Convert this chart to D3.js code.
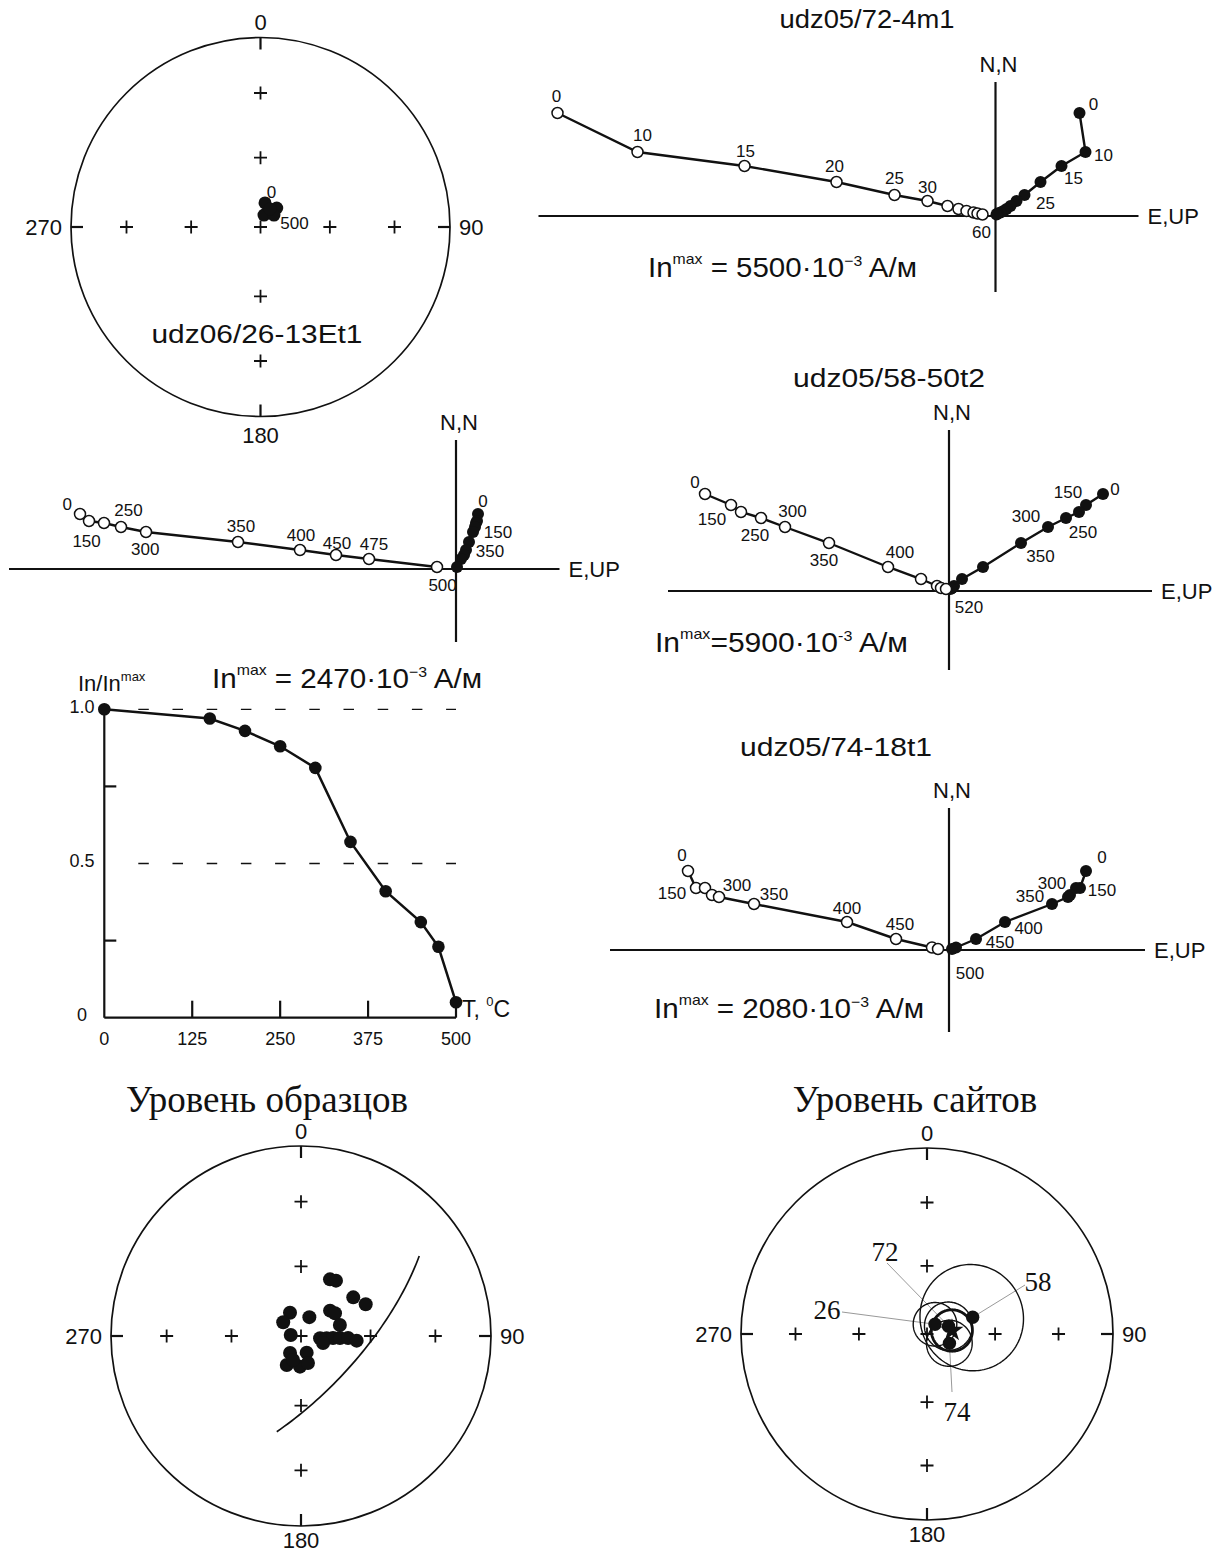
<!DOCTYPE html>
<html>
<head>
<meta charset="utf-8">
<script src="https://cdn.jsdelivr.net/npm/d3@7"></script>
<style>
  body { margin: 0; background: #fff; }
  svg { display: block; }
  text { font-family: "Liberation Sans", Arial, sans-serif; fill: #111; }
  .serif { font-family: "Liberation Serif", "Times New Roman", serif; }
</style>
</head>
<body>
<svg width="1227" height="1553"></svg>
<script>
// ---------- data ----------
const netDirs = [0, 90, 180, 270];
const netLabels = ["0", "90", "180", "270"];
const crossInc = [60, 30];

// udz06/26-13Et1, stereonet of demag steps
const s26Dec = [10.6, 40.5, 16.3, 48.4, 27.8];
const s26Inc = [79.5, 79.3, 84.7, 82.3, 81.3];

// Zijderveld diagrams: N, E (filled) and Up (open), relative units
const z72Steps = [0, 10, 15, 20, 25, 30, 35, 40, 45, 50, 55, 60];
const z72N  = [1.03, 0.64, 0.50, 0.34, 0.21, 0.15, 0.10, 0.07, 0.05, 0.035, 0.025, 0.015];
const z72E  = [0.84, 0.90, 0.66, 0.45, 0.29, 0.21, 0.15, 0.11, 0.08, 0.05, 0.02, 0.01];
const z72Up = [-4.38, -3.58, -2.51, -1.59, -1.01, -0.68, -0.48, -0.37, -0.29, -0.22, -0.18, -0.13];

const z26Steps = [0, 150, 200, 250, 300, 350, 400, 450, 475, 500];
const z26N  = [0.55, 0.48, 0.46, 0.42, 0.37, 0.27, 0.19, 0.14, 0.10, 0.02];
const z26E  = [0.22, 0.21, 0.20, 0.19, 0.17, 0.13, 0.10, 0.08, 0.05, 0.01];
const z26Up = [-3.76, -3.67, -3.52, -3.35, -3.10, -2.18, -1.56, -1.20, -0.87, -0.19];

const z58Steps = [0, 150, 200, 250, 300, 350, 400, 450, 480, 500, 520];
const z58N  = [0.97, 0.86, 0.79, 0.73, 0.64, 0.48, 0.24, 0.12, 0.05, 0.03, 0.02];
const z58E  = [1.54, 1.37, 1.30, 1.17, 0.99, 0.72, 0.34, 0.13, 0.05, 0.03, 0.015];
const z58Up = [-2.44, -2.18, -2.08, -1.88, -1.64, -1.20, -0.61, -0.28, -0.12, -0.08, -0.03];

const z74Steps = [0, 150, 200, 250, 300, 350, 400, 450, 475, 500];
const z74N  = [0.79, 0.62, 0.62, 0.55, 0.53, 0.46, 0.28, 0.11, 0.025, 0.01];
const z74E  = [1.37, 1.31, 1.27, 1.21, 1.19, 1.03, 0.56, 0.27, 0.07, 0.03];
const z74Up = [-2.61, -2.53, -2.44, -2.37, -2.30, -1.95, -1.02, -0.53, -0.17, -0.11];

// thermal demagnetisation curve
const demagT = [0, 150, 200, 250, 300, 350, 400, 450, 475, 500];
const demagJ = [1.0, 0.97, 0.93, 0.88, 0.81, 0.57, 0.41, 0.31, 0.23, 0.05];
const demagTicksX = [0, 125, 250, 375, 500];
const demagLabelsY = [0, 0.5, 1.0];

// sample level directions
const sampDec = [27.1, 32.3, 53.5, 63.9, 334.7, 23.9, 48.9, 56.3, 74.2, 307.7, 275.5, 96.9,
                 95.1, 93.6, 92.9, 92.4, 94.8, 107.7, 212.9, 161.2, 206.2, 181.9, 165.5, 198.4];
const sampInc = [62.6, 61.8, 62.0, 58.9, 79.0, 81.2, 73.5, 72.5, 72.7, 80.4, 85.6, 81.8,
                 79.0, 76.3, 73.3, 69.8, 66.0, 80.1, 81.4, 82.5, 76.2, 76.9, 78.1, 79.2];
const gcStart = [194.2, 46.9];
const gcEnd = [55.9, 25.8];

// site level
const siteNames = ["26", "58", "72", "74"];
const siteDec = [39.5, 69.9, 70, 112.6];
const siteInc = [84.5, 68.7, 80, 79.4];
const siteA95 = [9.5, 23, 10.5, 10];
const meanDec = 82, meanInc = 79, meanA95 = 9;

// ---------- drawing ----------
const svg = d3.select("svg");
const ink = "#111";
const RAD = Math.PI / 180;

// equal-area (Schmidt) lower hemisphere projection
function project(cx, cy, R) {
  const r = d3.scaleLinear().domain([0, 1]).range([0, R]);
  return ([dec, inc]) => {
    const d = r(Math.SQRT2 * Math.sin((90 - inc) * RAD / 2));
    return [cx + d * Math.sin(dec * RAD), cy - d * Math.cos(dec * RAD)];
  };
}

function drawNet(cx, cy, R, bottomOff) {
  const proj = project(cx, cy, R);
  const g = svg.append("g");
  g.append("circle").attr("cx", cx).attr("cy", cy).attr("r", R)
    .attr("fill", "none").attr("stroke", ink).attr("stroke-width", 1.7);
  netDirs.forEach((a, i) => {
    const [x0, y0] = proj([a, 0]);
    const ux = (cx - x0) / R, uy = (cy - y0) / R;
    g.append("line").attr("x1", x0).attr("y1", y0)
      .attr("x2", x0 + ux * 12).attr("y2", y0 + uy * 12)
      .attr("stroke", ink).attr("stroke-width", 2.2);
    const off = a === 0 ? 15 : a === 180 ? bottomOff : 9;
    g.append("text").attr("x", x0 - ux * off).attr("y", y0 - uy * off).attr("dy", "0.35em")
      .attr("text-anchor", a === 90 ? "start" : a === 270 ? "end" : "middle")
      .attr("font-size", 22).text(netLabels[i]);
  });
  const crosses = [[0, 90]];
  netDirs.forEach(a => crossInc.forEach(inc => crosses.push([a, inc])));
  g.selectAll(null).data(crosses).join("path")
    .attr("d", d => { const [x, y] = proj(d); return `M${x - 6.5},${y}H${x + 6.5}M${x},${y - 6.5}V${y + 6.5}`; })
    .attr("stroke", ink).attr("stroke-width", 1.8);
  return { g, proj };
}

function inMax(x, y, val, minus, spaced, width) {
  const t = svg.append("text").attr("x", x).attr("y", y).attr("font-size", 28)
    .attr("textLength", width).attr("lengthAdjust", "spacingAndGlyphs");
  t.append("tspan").text("In");
  t.append("tspan").attr("font-size", 15).attr("dy", -13).text("max");
  t.append("tspan").attr("dy", 13).text((spaced ? " = " : "=") + val + "·10");
  t.append("tspan").attr("font-size", 15).attr("dy", -11).text(minus + "3");
  t.append("tspan").attr("dy", 11).text(" A/м");
}

function title(x, y, txt, width) {
  svg.append("text").attr("x", x).attr("y", y).attr("text-anchor", "middle")
    .attr("font-size", 26).attr("textLength", width).attr("lengthAdjust", "spacingAndGlyphs")
    .text(txt);
}

function drawZij(c, steps, N, E, Up) {
  const g = svg.append("g");
  const x = d3.scaleLinear().domain([0, 1]).range([c.ox, c.ox + 100]);
  const y = d3.scaleLinear().domain([0, 1]).range([c.oy, c.oy - 100]);
  g.append("line").attr("x1", x(c.xr[0])).attr("x2", x(c.xr[1])).attr("y1", y(0)).attr("y2", y(0))
    .attr("stroke", ink).attr("stroke-width", 2.2);
  g.append("line").attr("x1", x(0)).attr("x2", x(0)).attr("y1", y(c.yr[0])).attr("y2", y(c.yr[1]))
    .attr("stroke", ink).attr("stroke-width", 2.2);
  g.append("text").attr("x", x(0) + 3).attr("y", y(c.yr[1]) - 10).attr("text-anchor", "middle")
    .attr("font-size", 22).text("N,N");
  g.append("text").attr("x", x(c.xr[1]) + 9).attr("y", y(0)).attr("dy", "0.35em")
    .attr("font-size", 22).text("E,UP");

  const idx = d3.range(steps.length);
  const lineV = d3.line().x(i => x(Up[i])).y(i => y(N[i]));
  const lineH = d3.line().x(i => x(E[i])).y(i => y(N[i]));
  g.append("path").attr("d", lineV(idx)).attr("fill", "none").attr("stroke", ink).attr("stroke-width", 2.4);
  g.append("path").attr("d", lineH(idx)).attr("fill", "none").attr("stroke", ink).attr("stroke-width", 2.4);
  g.selectAll(null).data(idx).join("circle")
    .attr("cx", i => x(E[i])).attr("cy", i => y(N[i])).attr("r", 6).attr("fill", ink);
  g.selectAll(null).data(idx).join("circle")
    .attr("cx", i => x(Up[i])).attr("cy", i => y(N[i])).attr("r", 5.5)
    .attr("fill", "#fff").attr("stroke", ink).attr("stroke-width", 1.5);

  g.selectAll(null).data(c.openLab).join("text")
    .attr("x", d => x(Up[d[0]]) + d[1]).attr("y", d => y(N[d[0]]) + d[2]).attr("dy", "0.35em")
    .attr("text-anchor", "middle").attr("font-size", 17).text(d => steps[d[0]]);
  g.selectAll(null).data(c.fillLab).join("text")
    .attr("x", d => x(E[d[0]]) + d[1]).attr("y", d => y(N[d[0]]) + d[2]).attr("dy", "0.35em")
    .attr("text-anchor", "middle").attr("font-size", 17).text(d => steps[d[0]]);
}

// ---- top-left stereonet ----
{
  const { g, proj } = drawNet(260.5, 227, 189.5, 19);
  const pts = s26Dec.map((d, i) => proj([d, s26Inc[i]]));
  g.selectAll(null).data(pts).join("circle")
    .attr("cx", d => d[0]).attr("cy", d => d[1]).attr("r", 6.5).attr("fill", ink);
  g.append("text").attr("x", 260.5 + 11).attr("y", 227 - 35).attr("dy", "0.35em")
    .attr("text-anchor", "middle").attr("font-size", 17).text(z26Steps[0]);
  g.append("text").attr("x", 260.5 + 34).attr("y", 227 - 4).attr("dy", "0.35em")
    .attr("text-anchor", "middle").attr("font-size", 17).text(z26Steps[z26Steps.length - 1]);
  title(257, 343, "udz06/26-13Et1", 211);
}

// ---- Zijderveld diagrams ----
drawZij({ ox: 995.5, oy: 216, xr: [-4.57, 1.43], yr: [-0.76, 1.34],
  openLab: [[0, -1, -17], [1, 5, -17], [2, 1, -15], [3, -2, -16], [4, 0, -17], [5, 0, -14], [11, -1, 18]],
  fillLab: [[0, 14, -9], [1, 18, 3], [2, 12, 12], [4, 21, 8]] }, z72Steps, z72N, z72E, z72Up);
title(867, 28, "udz05/72-4m1", 175);
inMax(648, 277, "5500", "−", true, 269);

drawZij({ ox: 456, oy: 569, xr: [-4.47, 1.035], yr: [-0.73, 1.29],
  openLab: [[0, -12.7, -10], [1, -2.4, 20], [3, 7.5, -17.4], [4, -0.8, 16.6], [5, 3, -16], [6, 1, -15], [7, 1, -12], [8, 5, -15], [9, 5.6, 18.3]],
  fillLab: [[0, 5, -13], [1, 21, 11], [5, 21, 9]] }, z26Steps, z26N, z26E, z26Up);

drawZij({ ox: 949, oy: 591, xr: [-2.81, 2.03], yr: [-0.79, 1.61],
  openLab: [[0, -10, -12], [1, -19, 14], [3, -6, 17], [4, 7.5, -15.6], [5, -5, 17.4], [6, 12, -15], [10, 23, 18]],
  fillLab: [[0, 12, -5], [1, -18, -13], [4, -22, -11], [3, 17, 14], [5, 19.5, 13]] }, z58Steps, z58N, z58E, z58Up);
title(889, 386.5, "udz05/58-50t2", 192);
inMax(655, 651.7, "5900", "-", false, 253);

drawZij({ ox: 949, oy: 950, xr: [-3.39, 1.96], yr: [-0.82, 1.42],
  openLab: [[0, -6, -16], [1, -24, 5], [4, 18, -12.4], [5, 20, -10], [6, 0, -14], [7, 4, -15], [9, 32, 24]],
  fillLab: [[0, 16, -14], [1, 22, 2], [4, -16, -14], [5, -22, -7.6], [6, 23.6, 6], [7, 24, 2.7]] }, z74Steps, z74N, z74E, z74Up);
title(836, 756, "udz05/74-18t1", 192);
inMax(654, 1017.7, "2080", "−", true, 270);

// ---- demagnetisation curve ----
{
  const g = svg.append("g");
  const x = d3.scaleLinear().domain([0, 500]).range([104.3, 456]);
  const y = d3.scaleLinear().domain([0, 1]).range([1017.7, 709.3]);
  g.append("line").attr("x1", x(0)).attr("x2", x(500)).attr("y1", y(0)).attr("y2", y(0))
    .attr("stroke", ink).attr("stroke-width", 2.2);
  g.append("line").attr("x1", x(0)).attr("x2", x(0)).attr("y1", y(0)).attr("y2", y(1))
    .attr("stroke", ink).attr("stroke-width", 2.2);
  g.selectAll(null).data(demagTicksX.slice(1)).join("line")
    .attr("x1", x).attr("x2", x).attr("y1", y(0)).attr("y2", y(0) - 17)
    .attr("stroke", ink).attr("stroke-width", 2.2);
  g.selectAll(null).data([0.25, 0.75]).join("line")
    .attr("x1", x(0)).attr("x2", x(0) + 12).attr("y1", y).attr("y2", y)
    .attr("stroke", ink).attr("stroke-width", 2.2);
  g.selectAll(null).data([0.5, 1.0]).join("line")
    .attr("x1", x(0) + 34).attr("x2", x(500)).attr("y1", y).attr("y2", y)
    .attr("stroke", ink).attr("stroke-width", 1.3).attr("stroke-dasharray", "10.5,23.7");
  g.selectAll(null).data(demagTicksX).join("text")
    .attr("x", x).attr("y", 1045).attr("text-anchor", "middle").attr("font-size", 18).text(d => d);
  g.selectAll(null).data(demagLabelsY).join("text")
    .attr("x", 82).attr("y", d => y(d) - 3).attr("dy", "0.35em").attr("text-anchor", "middle")
    .attr("font-size", 18).text(d => d === 0 ? "0" : d.toFixed(1));
  const line = d3.line().x((d, i) => x(demagT[i])).y(d => y(d));
  g.append("path").attr("d", line(demagJ)).attr("fill", "none").attr("stroke", ink).attr("stroke-width", 2.5);
  g.selectAll(null).data(demagJ).join("circle")
    .attr("cx", (d, i) => x(demagT[i])).attr("cy", d => y(d)).attr("r", 6.3).attr("fill", ink);
  const yl = g.append("text").attr("x", 78).attr("y", 691).attr("font-size", 22);
  yl.append("tspan").text("In/In");
  yl.append("tspan").attr("font-size", 13).attr("dy", -10).text("max");
  const tl = g.append("text").attr("x", 462).attr("y", 1016.7).attr("font-size", 23);
  tl.append("tspan").text("T, ");
  tl.append("tspan").attr("font-size", 13).attr("dy", -11).text("0");
  tl.append("tspan").attr("dy", 11).text("C");
}
inMax(212, 688, "2470", "−", true, 270);

// ---- sample level ----
{
  const { g, proj } = drawNet(301, 1336, 190, 14);
  const interp = d3.geoInterpolate(gcStart, gcEnd);
  const arc = d3.range(0, 1.0001, 0.02).map(t => proj(interp(t)));
  g.append("path").attr("d", d3.line()(arc)).attr("fill", "none").attr("stroke", ink).attr("stroke-width", 1.7);
  g.selectAll(null).data(sampDec.map((d, i) => proj([d, sampInc[i]]))).join("circle")
    .attr("cx", d => d[0]).attr("cy", d => d[1]).attr("r", 7).attr("fill", ink);
  svg.append("text").attr("class", "serif").attr("x", 267).attr("y", 1112)
    .attr("text-anchor", "middle").attr("font-size", 37).text("Уровень образцов");
}

// ---- site level ----
{
  const cx = 927, cy = 1334;
  const { g, proj } = drawNet(cx, cy, 186, 14);
  const ring = (dec, inc, a) => d3.geoCircle().center([dec, inc]).radius(a).precision(2)()
    .coordinates[0].map(proj);
  const closed = d3.line().curve(d3.curveLinearClosed);
  const labPos = [[-100, -24], [111, -52], [-42, -82], [30, 78]];
  const labFrom = [[-85, -22], [98, -49], [-40, -71], [25, 58]];
  siteNames.forEach((s, i) => {
    const p = proj([siteDec[i], siteInc[i]]);
    g.append("line").attr("x1", cx + labFrom[i][0]).attr("y1", cy + labFrom[i][1])
      .attr("x2", p[0]).attr("y2", p[1]).attr("stroke", "#999").attr("stroke-width", 1);
    g.append("text").attr("class", "serif").attr("x", cx + labPos[i][0]).attr("y", cy + labPos[i][1])
      .attr("dy", "0.35em").attr("text-anchor", "middle").attr("font-size", 27).text(s);
  });
  siteNames.forEach((s, i) => {
    g.append("path").attr("d", closed(ring(siteDec[i], siteInc[i], siteA95[i])))
      .attr("fill", "none").attr("stroke", ink).attr("stroke-width", 1.4);
  });
  g.append("path").attr("d", closed(ring(meanDec, meanInc, meanA95)))
    .attr("fill", "none").attr("stroke", ink).attr("stroke-width", 2.8);
  siteNames.forEach((s, i) => {
    const p = proj([siteDec[i], siteInc[i]]);
    g.append("circle").attr("cx", p[0]).attr("cy", p[1]).attr("r", 6.7).attr("fill", ink);
  });
  const m = proj([meanDec, meanInc]);
  g.append("path").attr("d", d3.symbol(d3.symbolStar, 165)())
    .attr("transform", `translate(${m[0]},${m[1]})`).attr("fill", ink);
  svg.append("text").attr("class", "serif").attr("x", 915).attr("y", 1112)
    .attr("text-anchor", "middle").attr("font-size", 37).text("Уровень сайтов");
}
</script>
</body>
</html>
